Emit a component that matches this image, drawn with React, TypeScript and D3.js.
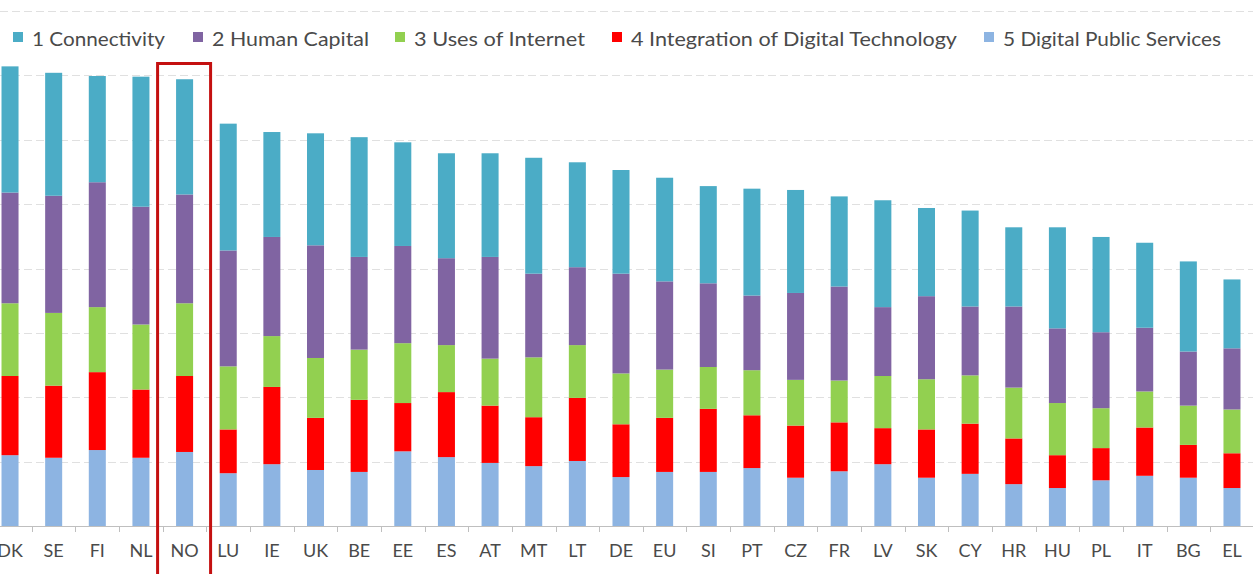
import React from "react";
import * as d3 from "d3";

const countries = ["DK","SE","FI","NL","NO","LU","IE","UK","BE","EE","ES","AT","MT","LT","DE","EU","SI","PT","CZ","FR","LV","SK","CY","HR","HU","PL","IT","BG","EL"];

const seriesNames = ["1 Connectivity","2 Human Capital","3 Uses of Internet","4 Integration of Digital Technology","5 Digital Public Services"];
const seriesColors = ["#4bacc6","#8064a2","#92d050","#ff0000","#8db4e2"];

const connectivity = [0.196,0.191,0.165,0.202,0.179,0.197,0.163,0.174,0.186,0.161,0.163,0.161,0.180,0.163,0.161,0.161,0.151,0.166,0.160,0.140,0.166,0.137,0.149,0.123,0.157,0.148,0.132,0.140,0.107];
const humanCapital = [0.172,0.182,0.194,0.183,0.169,0.180,0.154,0.175,0.144,0.151,0.135,0.158,0.130,0.121,0.155,0.137,0.130,0.116,0.135,0.146,0.107,0.129,0.107,0.126,0.116,0.118,0.099,0.084,0.095];
const usesOfInternet = [0.113,0.113,0.101,0.101,0.113,0.098,0.079,0.093,0.078,0.093,0.073,0.073,0.093,0.082,0.079,0.075,0.065,0.070,0.071,0.065,0.081,0.078,0.075,0.079,0.081,0.062,0.056,0.061,0.068];
const integration = [0.123,0.112,0.121,0.106,0.118,0.068,0.120,0.081,0.112,0.075,0.101,0.089,0.076,0.098,0.082,0.084,0.098,0.082,0.081,0.076,0.056,0.075,0.078,0.071,0.051,0.050,0.075,0.051,0.054];
const publicServices = [0.110,0.106,0.118,0.106,0.115,0.082,0.096,0.087,0.084,0.116,0.107,0.098,0.093,0.101,0.076,0.084,0.084,0.090,0.075,0.085,0.096,0.075,0.081,0.065,0.059,0.071,0.078,0.075,0.059];

const yTicks = [0,0.1,0.2,0.3,0.4,0.5,0.6,0.7,0.8];
const highlighted = "NO";

const W = 1253;
const H = 574;

export default function App() {
  // stacking order bottom -> top: 5,4,3,2,1
  const keys = ["dps","int","uses","hc","conn"];
  const keyColor: Record<string,string> = { dps: seriesColors[4], int: seriesColors[3], uses: seriesColors[2], hc: seriesColors[1], conn: seriesColors[0] };
  const rows = countries.map((c, i) => ({
    country: c,
    dps: publicServices[i],
    int: integration[i],
    uses: usesOfInternet[i],
    hc: humanCapital[i],
    conn: connectivity[i],
  }));
  const stacked = d3.stack<any>().keys(keys)(rows);

  const x = d3.scaleBand<string>().domain(countries).range([-11.8, 1253.8]).paddingInner(0.61).paddingOuter(0.305);
  const y = d3.scaleLinear().domain([0, 0.8]).range([526, 11]);
  const step = x.step();

  const legendX = [13, 193, 395, 612, 984];
  const legendTextW = [133, 157, 171, 326, 218];

  const hx = (x(highlighted) as number) + x.bandwidth() / 2;

  return (
    <svg width={W} height={H} style={{ position: "absolute", left: 0, top: 0, background: "#fff" }} fontFamily="Lato, 'Open Sans', sans-serif">
      <rect x={0} y={0} width={W} height={H} fill="#fff" />
      {/* gridlines */}
      {yTicks.slice(1).map((t) => (
        <line key={t} x1={0} x2={W} y1={Math.round(y(t)) + 0.5} y2={Math.round(y(t)) + 0.5} stroke="#e0e0e0" strokeWidth={1} strokeDasharray="8,4" />
      ))}
      {/* bars */}
      {stacked.map((layer) => (
        <g key={layer.key} fill={keyColor[layer.key]}>
          {layer.map((d, i) => (
            <rect key={i} x={x(countries[i])} width={x.bandwidth()} y={y(d[1])} height={y(d[0]) - y(d[1])} />
          ))}
        </g>
      ))}
      {/* axis */}
      <line x1={0} x2={W} y1={526.5} y2={526.5} stroke="#bfbfbf" strokeWidth={1} />
      {countries.slice(1).map((c) => {
        const bx = (x(c) as number) + x.bandwidth() / 2 - step / 2;
        return <line key={c} x1={Math.round(bx) + 0.5} x2={Math.round(bx) + 0.5} y1={526} y2={532} stroke="#bfbfbf" strokeWidth={1} />;
      })}
      {countries.map((c) => (
        <text key={c} x={(x(c) as number) + x.bandwidth() / 2} y={557} textAnchor="middle" fontSize={18} fill="#4a4a4a">{c}</text>
      ))}
      {/* highlight box */}
      <rect x={hx - 27} y={63.5} width={53} height={530} fill="none" stroke="#c41010" strokeWidth={3} />
      {/* legend */}
      {seriesNames.map((name, i) => (
        <g key={name}>
          <rect x={legendX[i]} y={32} width={10} height={10} fill={seriesColors[i]} />
          <text x={legendX[i] + 19} y={46} fontSize={19} fill="#4a4a4a" textLength={legendTextW[i]} lengthAdjust="spacingAndGlyphs">{name}</text>
        </g>
      ))}
    </svg>
  );
}
